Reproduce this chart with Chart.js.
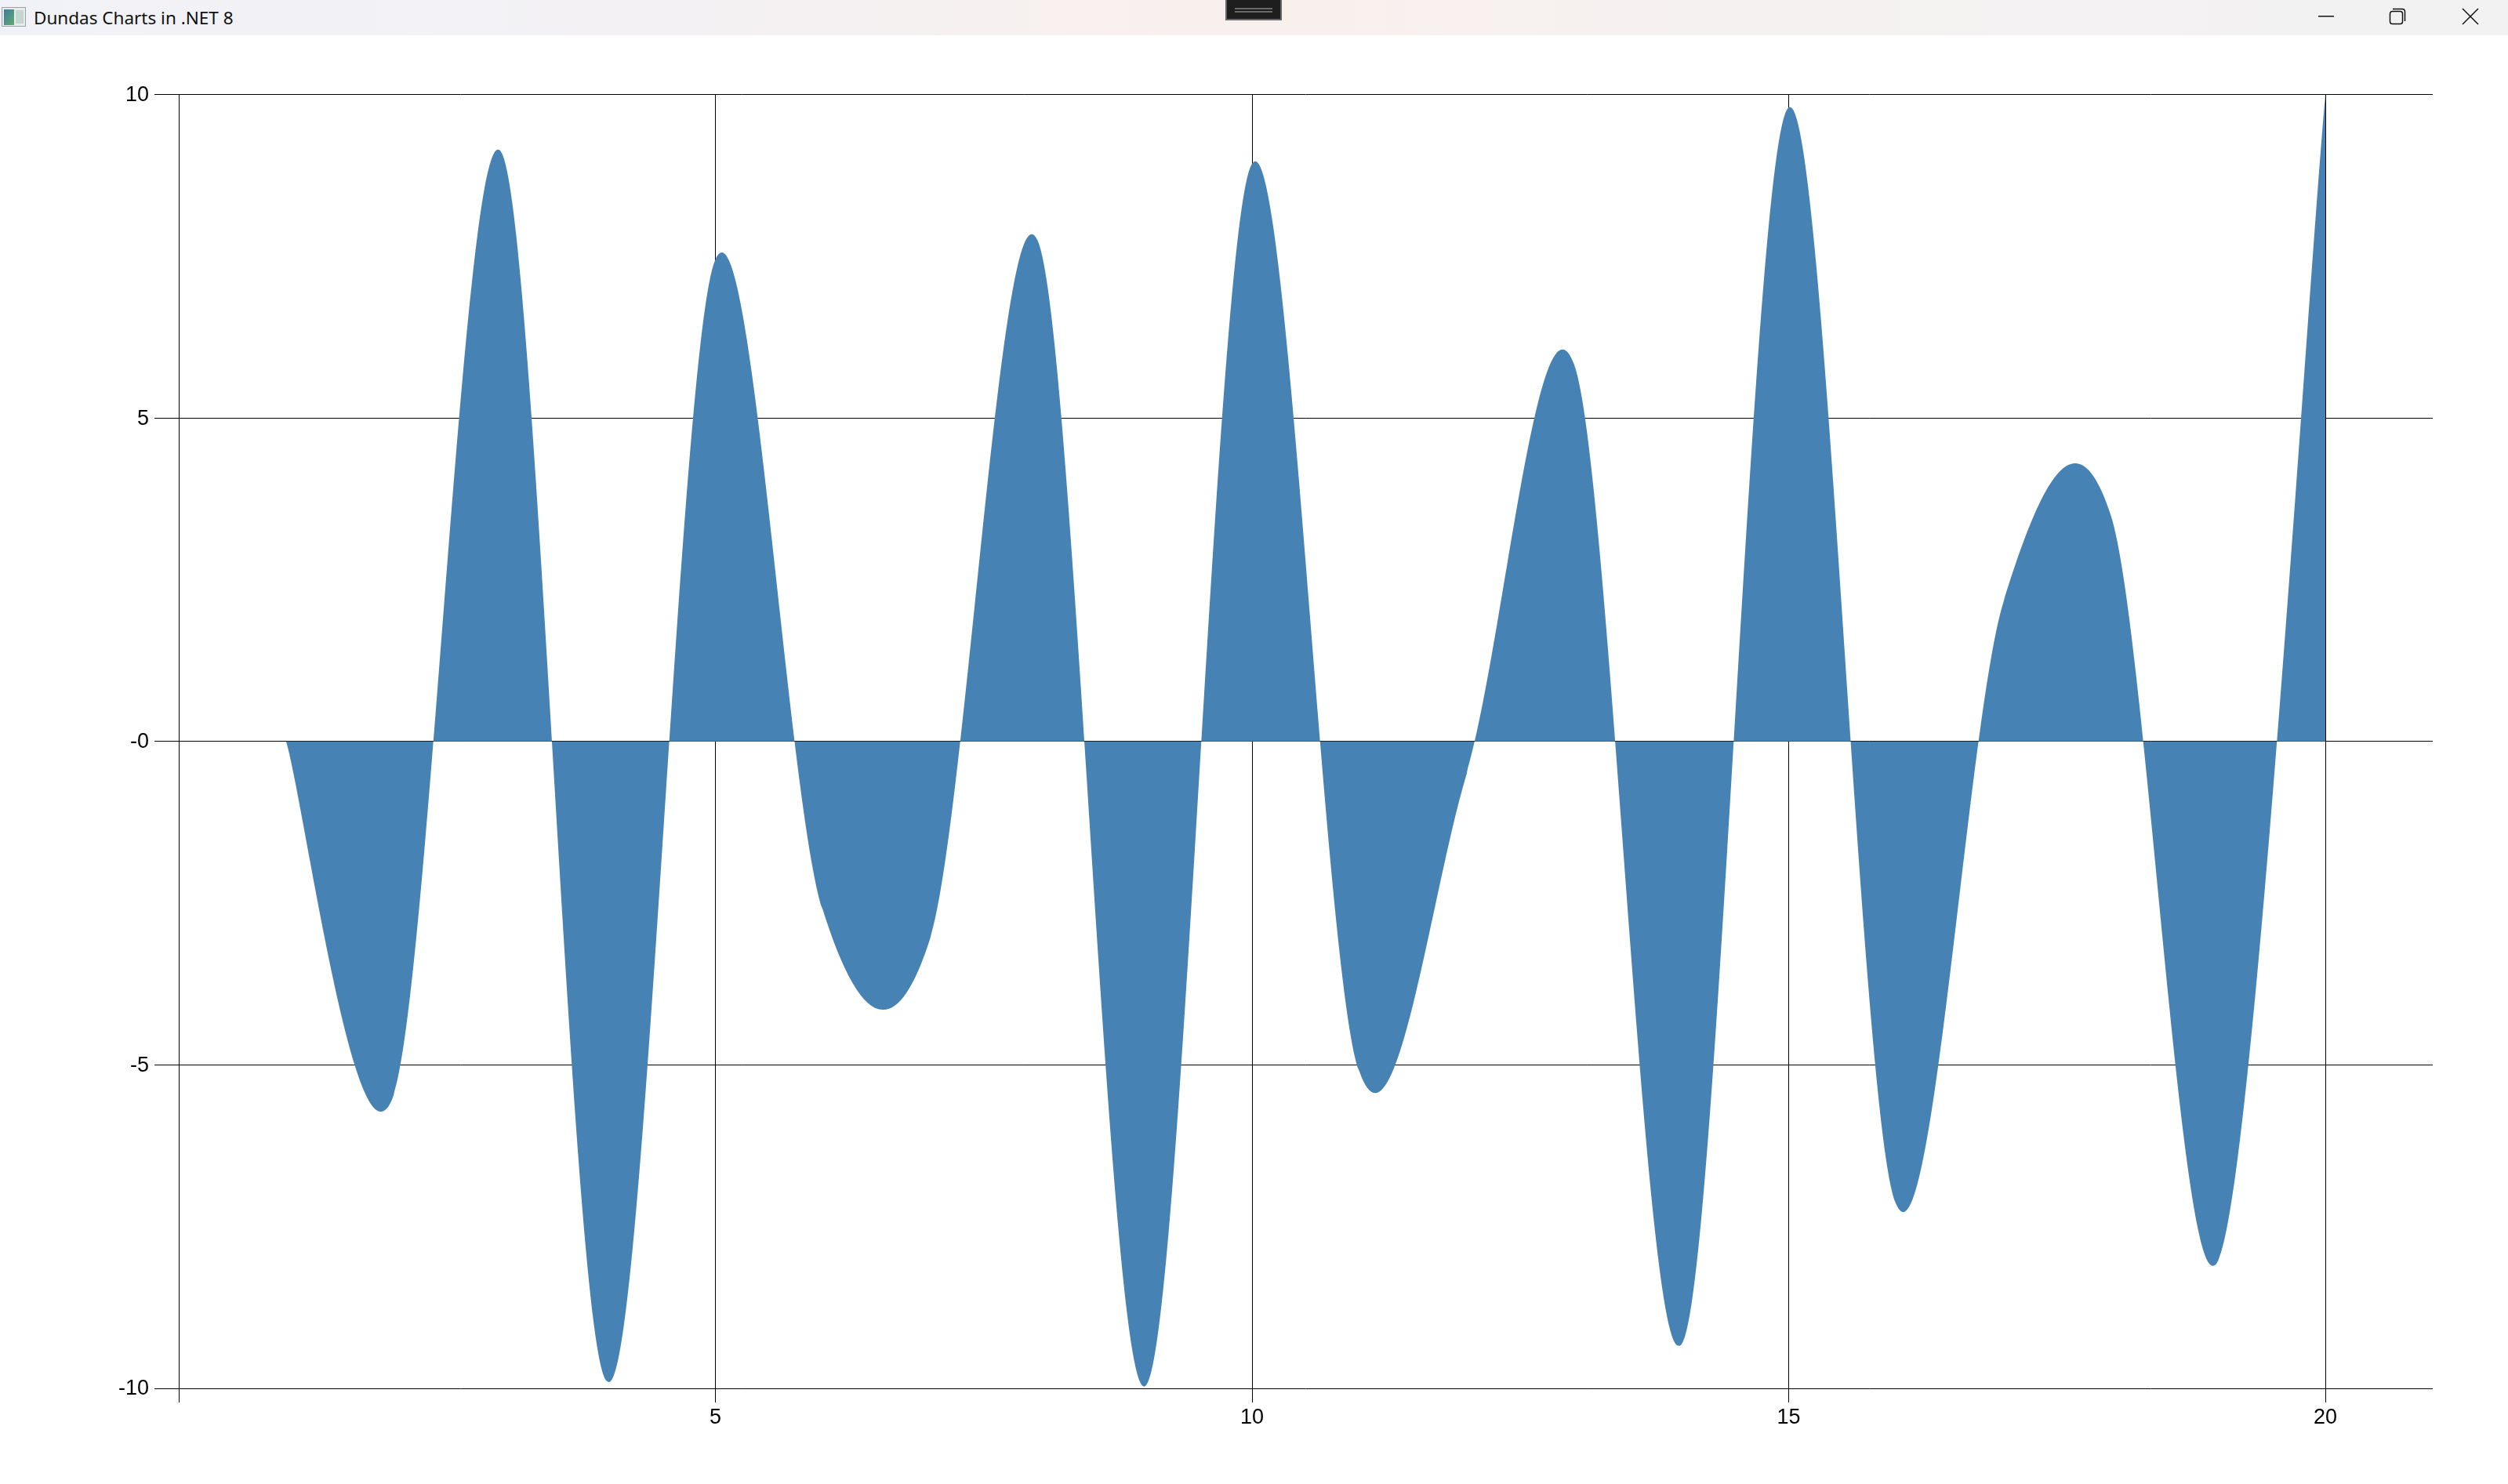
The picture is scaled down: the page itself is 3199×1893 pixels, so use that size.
<!DOCTYPE html>
<html>
<head>
<meta charset="utf-8">
<title>Dundas Charts in .NET 8</title>
<script src="https://cdn.jsdelivr.net/npm/chart.js@4/dist/chart.umd.min.js"></script>
<style>
  html, body { margin: 0; padding: 0; background: #fff; overflow: hidden; }
  #bar { position: absolute; left: 0; top: 0; width: 3199px; height: 45px;
         background: linear-gradient(90deg, #f1f2f7 0%, #f3f1f4 25%, #f8f0ed 50%, #f5f1f1 70%, #f2f2f3 100%); }
  #bar span { position: absolute; left: 43px; top: 6px; font: 22.5px "Noto Sans", sans-serif; line-height: 34px; color: #111; }
  #bar svg { position: absolute; left: 0; top: 0; }
  #wrap { position: absolute; left: 0; top: 45px; width: 3199px; height: 1848px; }
</style>
</head>
<body>
<div id="bar">
  <svg width="3199" height="45">
    <defs>
      <linearGradient id="ic" x1="0" y1="0" x2="1" y2="1">
        <stop offset="0" stop-color="#3f7f9f"/><stop offset="1" stop-color="#62a86e"/>
      </linearGradient>
    </defs>
    <rect x="2.5" y="9.5" width="30" height="24" fill="#e8ebec" stroke="#9aa3a8"/>
    <rect x="5" y="12" width="13" height="20" fill="url(#ic)"/>
    <rect x="20" y="13" width="10" height="17" fill="#c5d5d0"/>
    <rect x="1563" y="-2" width="72" height="28" fill="#666"/>
    <rect x="1565" y="0" width="68" height="24" fill="#1e1e1e"/>
    <rect x="1575" y="10" width="48" height="2" fill="#6a6a6a"/>
    <rect x="1575" y="14" width="48" height="2" fill="#6a6a6a"/>
    <rect x="2957" y="20" width="20" height="1.5" fill="#111"/>
    <rect x="3048.5" y="14.5" width="16" height="16" rx="3" fill="none" stroke="#111" stroke-width="1.5"/>
    <path d="M3052 11.5 H3064 Q3067.5 11.5 3067.5 15 V27" fill="none" stroke="#111" stroke-width="1.5"/>
    <path d="M3141 11 L3161 31 M3161 11 L3141 31" stroke="#111" stroke-width="1.5"/>
  </svg>
  <span>Dundas Charts in .NET 8</span>
</div>
<div id="wrap"><canvas id="chart" width="3199" height="1848"></canvas></div>
<script>
const xValues = [1, 2, 3, 4, 5, 6, 7, 8, 9, 10, 11, 12, 13, 14, 15, 16, 17, 18, 19, 20];
const yValues = [0, -5.48, 9.12, -9.9, 7.45, -2.6, -3.05, 7.75, -9.97, 8.93, -5.1, -0.5, 5.83, -9.32, 9.8, -7.15, 2.15, 3.5, -8.03, 10];
const xTickLabels = { 5: '5', 10: '10', 15: '15', 20: '20' };
const yTickLabels = { '-10': '-10', '-5': '-5', '0': '-0', '5': '5', '10': '10' };

const tickFont = { family: '"Liberation Sans", Arial, sans-serif', size: 27 };

// the original curve has even handles at every point, chart.js scales them by
// segment length, so the handles get replaced after the points are placed
const evenSpline = {
    id: 'evenSpline',
    afterDatasetsUpdate(chart) {
        const meta = chart.getDatasetMeta(0);
        const pts = meta.data;
        pts.forEach((p, i) => {
            const prev = pts[i - 1] || p;
            const next = pts[i + 1] || p;
            const dx = (next.x - prev.x) / 6;
            const dy = (next.y - prev.y) / 6;
            p.cp1x = p.x - dx;
            p.cp1y = p.y - dy;
            p.cp2x = p.x + dx;
            p.cp2y = p.y + dy;
        });
        meta.dataset._pointsUpdated = true;
    }
};

const ctx = document.getElementById('chart').getContext('2d');
new Chart(ctx, {
    type: 'line',
    plugins: [evenSpline],
    data: {
        datasets: [{
            data: xValues.map((x, i) => ({ x: x, y: yValues[i] })),
            backgroundColor: '#4682b4',
            borderWidth: 0,
            pointRadius: 0,
            tension: 0.5,
            fill: 'origin'
        }]
    },
    options: {
        responsive: false,
        animation: false,
        layout: { padding: { left: 0, right: 96, top: 75.5, bottom: 0 } },
        plugins: { legend: { display: false }, tooltip: { enabled: false } },
        scales: {
            x: {
                type: 'linear',
                min: 0,
                max: 21,
                afterFit: (s) => { s.height = 122; s.paddingLeft = 0; s.paddingRight = 0; },
                border: { display: false },
                grid: { color: '#000', lineWidth: 1, tickLength: 18 },
                ticks: {
                    stepSize: 5,
                    includeBounds: false,
                    maxRotation: 0,
                    color: '#000',
                    font: tickFont,
                    padding: 3,
                    callback: (v) => xTickLabels[v] || ''
                }
            },
            y: {
                type: 'linear',
                min: -10,
                max: 10,
                afterFit: (s) => { s.width = 228; s.paddingTop = 0; s.paddingBottom = 0; },
                border: { display: false },
                grid: { color: '#000', lineWidth: 1, tickLength: 31 },
                ticks: {
                    stepSize: 5,
                    color: '#000',
                    font: tickFont,
                    padding: 7,
                    labelOffset: 1,
                    callback: (v) => yTickLabels[v] || ''
                }
            }
        }
    }
});
</script>
</body>
</html>
